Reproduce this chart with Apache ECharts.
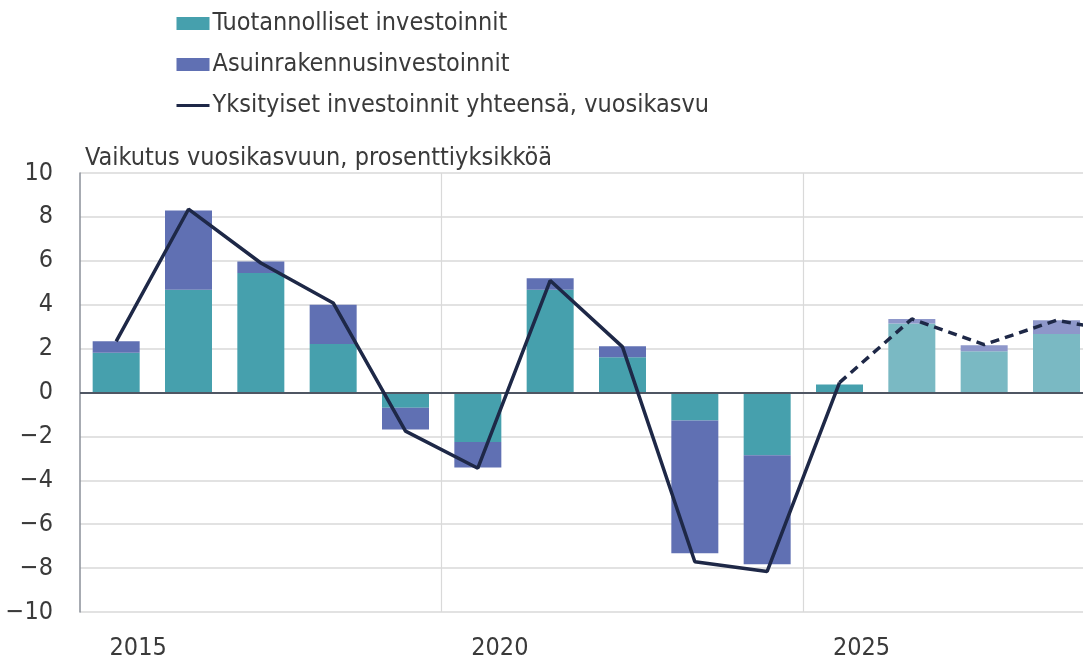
<!DOCTYPE html>
<html>
<head>
<meta charset="utf-8">
<script src="https://cdn.jsdelivr.net/npm/echarts@6/dist/echarts.min.js"></script>
<style>
html,body{margin:0;padding:0;background:#fff;}
#chart{width:1083px;height:661px;}
</style>
</head>
<body>
<div id="chart"></div>
<script>
const years = ['2015','2016','2017','2018','2019','2020','2021','2022','2023','2024','2025','2026','2027','2028','2029'];
const productive = [1.81, 4.68, 5.44, 2.21, -0.70, -2.26, 4.68, 1.61, -1.27, -2.86, 0.36, 3.14, 1.88, 2.67, null];
const residential = [0.52, 3.61, 0.53, 1.79, -0.98, -1.16, 0.53, 0.50, -6.05, -4.96, 0, 0.21, 0.27, 0.62, null];
const total = [2.33, 8.35, 5.9, 4.08, -1.76, -3.45, 5.1, 2.08, -7.71, -8.15, 0.45, 3.35, 2.18, 3.29, 2.7];
const yTicks = [-10, -8, -6, -4, -2, 0, 2, 4, 6, 8, 10];
const forecastLineFrom = 10;   // 2025: dashed line starts here
const forecastBarFrom = 11;    // 2026: lighter bars

const names = {
  productive: 'Tuotannolliset investoinnit',
  residential: 'Asuinrakennusinvestoinnit',
  total: 'Yksityiset investoinnit yhteensä, vuosikasvu'
};
const FONT = '"Liberation Sans Narrow", "DejaVu Sans Condensed", "Liberation Sans", sans-serif';
const TEAL = '#46A0AD', TEAL_L = '#7AB9C3';
const PURP = '#6070B3', PURP_L = '#8E97CA';
const LINE = '#1E2847';
const TXT = '#3a3a3a';

function barData(vals, dark, light) {
  return vals.map((v, i) => v === null ? null : ({
    value: v,
    itemStyle: { color: i >= forecastBarFrom ? light : dark }
  }));
}
const solidLine = total.map((v, i) => i <= forecastLineFrom ? v : null);
const dashLine = total.map((v, i) => i >= forecastLineFrom ? v : null);

const chart = echarts.init(document.getElementById('chart'), null, {renderer: 'canvas'});
chart.setOption({
  animation: false,
  textStyle: { fontFamily: FONT },
  title: {
    text: 'Vaikutus vuosikasvuun, prosenttiyksikköä',
    left: 80, top: 141,
    textStyle: { fontFamily: FONT, fontSize: 25, fontWeight: 'normal', color: TXT }
  },
  legend: {
    orient: 'vertical',
    left: 170, top: 6,
    itemWidth: 33, itemHeight: 13,
    itemGap: 16,
    textStyle: { fontFamily: FONT, fontSize: 25, color: TXT, padding: [0,0,0,-2] },
    data: [
      { name: names.productive, icon: 'rect' },
      { name: names.residential, icon: 'rect' },
      { name: names.total, itemStyle: { opacity: 0 }, lineStyle: { width: 3 } }
    ]
  },
  grid: { left: 80, top: 173, bottom: 49, right: -82, containLabel: false, outerBoundsMode: 'none' },
  xAxis: {
    type: 'category',
    data: years,
    boundaryGap: true,
    axisLine: { show: false },
    axisTick: { show: false },
    axisLabel: {
      interval: (i) => i % 5 === 0,
      fontFamily: FONT, fontSize: 25, color: TXT,
      margin: 24,
      padding: [0, 0, 0, 44]
    },
    splitLine: {
      show: true,
      interval: (i) => i % 5 === 0 && i > 0,
      lineStyle: { color: '#D9D9D9', width: 1.2 }
    }
  },
  yAxis: {
    type: 'value',
    min: yTicks[0], max: yTicks[yTicks.length - 1], interval: 2,
    axisLine: { show: true, lineStyle: { color: '#8A8F99', width: 1.5 } },
    axisTick: { show: false },
    axisLabel: {
      fontFamily: FONT, fontSize: 25, color: TXT, margin: 27,
      formatter: (v) => v < 0 ? '\u2212' + Math.abs(v) : String(v)
    },
    splitLine: { lineStyle: { color: '#D9D9D9', width: 1.5 } }
  },
  series: [
    {
      name: names.productive, type: 'bar', stack: 'inv',
      barWidth: 47,
      itemStyle: { color: TEAL },
      data: barData(productive, TEAL, TEAL_L),
      markLine: {
        silent: true, symbol: 'none', label: { show: false },
        lineStyle: { color: '#4F5663', width: 1.8, type: 'solid' },
        data: [{ yAxis: 0 }]
      }
    },
    {
      name: names.residential, type: 'bar', stack: 'inv',
      barWidth: 47,
      itemStyle: { color: PURP },
      data: barData(residential, PURP, PURP_L)
    },
    {
      name: names.total, type: 'line',
      symbol: 'none',
      lineStyle: { color: LINE, width: 3.5 },
      itemStyle: { color: LINE },
      data: solidLine,
      z: 5
    },
    {
      name: 'forecast', type: 'line',
      symbol: 'none',
      lineStyle: { color: LINE, width: 3.5, type: [9, 6] },
      itemStyle: { color: LINE },
      data: dashLine,
      z: 5
    }
  ]
});
</script>
</body>
</html>
